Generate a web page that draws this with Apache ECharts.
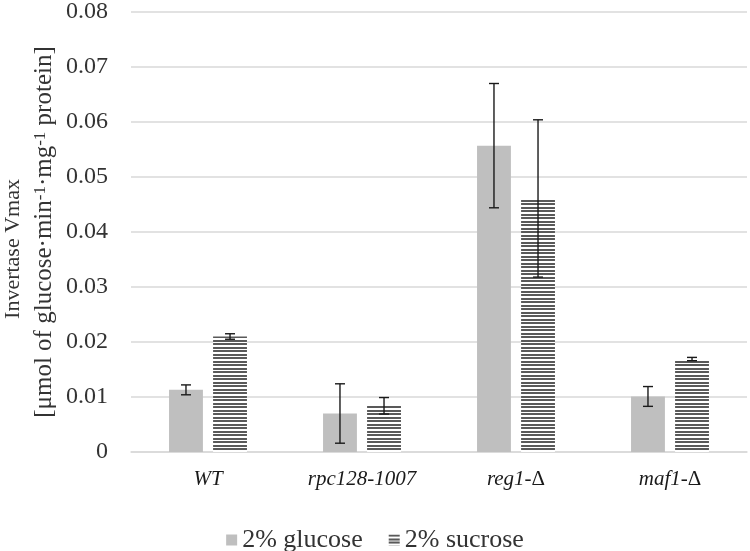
<!DOCTYPE html>
<html>
<head>
<meta charset="utf-8">
<script src="https://cdn.jsdelivr.net/npm/echarts@6/dist/echarts.min.js"></script>
<style>html,body{margin:0;padding:0;background:#fff;}#c{width:750px;height:551px;}</style>
</head>
<body>
<div id="c"></div>
<script>
const categories = ['WT', 'rpc128-1007', 'reg1-Δ', 'maf1-Δ'];
const glucose = [0.0113, 0.0070, 0.0557, 0.0101];
const glucoseErr = [0.0009, 0.0054, 0.0113, 0.0018];
const sucrose = [0.0210, 0.0084, 0.0461, 0.0169];
const sucroseErr = [0.0005, 0.0015, 0.0143, 0.0003];
const yTicks = [0, 0.01, 0.02, 0.03, 0.04, 0.05, 0.06, 0.07, 0.08];
const seriesNames = ['2% glucose', '2% sucrose'];

const FONT = '"Liberation Serif", "Times New Roman", serif';

const pat = document.createElement('canvas');
pat.width = 7; pat.height = 7;
(function(){
  const ctx = pat.getContext('2d');
  ctx.fillStyle = '#ffffff'; ctx.fillRect(0,0,7,7);
  ctx.fillStyle = '#595959';
  ctx.fillRect(0,0,7,2);
  ctx.fillRect(0,4,7,2);
})();

const BW = 0.22, GAP = 0.30;
function errSeries(vals, errs, sign) {
  return {
    type: 'custom',
    z: 10,
    silent: true,
    data: vals.map((v, i) => [i, v - errs[i], v + errs[i]]),
    renderItem: function(params, api) {
      const i = api.value(0);
      const band = api.size([1, 0])[0];
      const off = sign * band * BW * (1 + GAP) / 2;
      const lo = api.coord([i, api.value(1)]);
      const hi = api.coord([i, api.value(2)]);
      const x = lo[0] + off;
      const cap = 5;
      const st = { stroke: '#1a1a1a', lineWidth: 1.4 };
      return {
        type: 'group',
        children: [
          { type: 'line', shape: { x1: x, y1: lo[1], x2: x, y2: hi[1] }, style: st },
          { type: 'line', shape: { x1: x - cap, y1: lo[1], x2: x + cap, y2: lo[1] }, style: st },
          { type: 'line', shape: { x1: x - cap, y1: hi[1], x2: x + cap, y2: hi[1] }, style: st }
        ]
      };
    }
  };
}

const chart = echarts.init(document.getElementById('c'), null, { renderer: 'canvas' });
chart.setOption({
  animation: false,
  backgroundColor: '#ffffff',
  textStyle: { fontFamily: FONT },
  grid: { left: 131, right: 3, top: 12, bottom: 99, containLabel: false, outerBoundsMode: 'none' },
  legend: {
    data: seriesNames,
    top: 522,
    left: 'center',
    itemWidth: 11,
    itemHeight: 11,
    itemGap: 26,
    icon: 'rect',
    textStyle: { fontFamily: FONT, fontSize: 26, color: '#333333' }
  },
  xAxis: {
    type: 'category',
    data: categories,
    axisLine: { lineStyle: { color: '#d9d9d9', width: 1.5 } },
    axisTick: { show: false },
    axisLabel: {
      margin: 17,
      formatter: function(v) {
        const m = v.match(/^(.*?)(-Δ)$/);
        if (m) return '{i|' + m[1] + '}{n|' + m[2] + '}';
        return '{i|' + v + '}';
      },
      rich: {
        i: { fontFamily: FONT, fontSize: 21, fontStyle: 'italic', color: '#1a1a1a' },
        n: { fontFamily: FONT, fontSize: 21, color: '#1a1a1a' }
      }
    }
  },
  yAxis: {
    type: 'value',
    min: 0,
    max: 0.08,
    interval: 0.01,
    axisLine: { show: false },
    axisTick: { show: false },
    splitLine: { lineStyle: { color: '#d9d9d9', width: 1.5 } },
    axisLabel: {
      margin: 23,
      fontFamily: FONT,
      fontSize: 24,
      color: '#333333',
      formatter: function(v) {
        const idx = yTicks.findIndex(t => Math.abs(t - v) < 1e-9);
        return idx === 0 ? '0' : yTicks[idx >= 0 ? idx : 0].toFixed(2);
      }
    },
    name: '{h|Invertase Vmax}{g|}\n{n|[μmol of glucose·min}{s|-1}{n|·mg}{s|-1}{n| protein]}',
    nameLocation: 'middle',
    nameRotate: 90,
    nameGap: 71,
    nameMoveOverlap: false,
    nameTextStyle: {
      fontFamily: FONT,
      fontSize: 25,
      color: '#333333',
      lineHeight: 31,
      rich: {
        h: { fontFamily: FONT, fontSize: 22, color: '#333333', lineHeight: 31 },
        g: { width: 34, lineHeight: 31 },
        n: { fontFamily: FONT, fontSize: 25, color: '#333333', lineHeight: 31 },
        s: { fontFamily: FONT, fontSize: 17, color: '#333333', verticalAlign: 'top', lineHeight: 31, padding: [3, 0, 0, 0] }
      }
    }
  },
  series: [
    {
      name: seriesNames[0],
      type: 'bar',
      data: glucose,
      barWidth: (BW * 100) + '%',
      barGap: (GAP * 100) + '%',
      itemStyle: { color: '#bfbfbf' }
    },
    {
      name: seriesNames[1],
      type: 'bar',
      data: sucrose,
      barWidth: (BW * 100) + '%',
      barGap: (GAP * 100) + '%',
      itemStyle: { color: { image: pat, repeat: 'repeat' } }
    },
    errSeries(glucose, glucoseErr, -1),
    errSeries(sucrose, sucroseErr, 1)
  ]
});
</script>
</body>
</html>
